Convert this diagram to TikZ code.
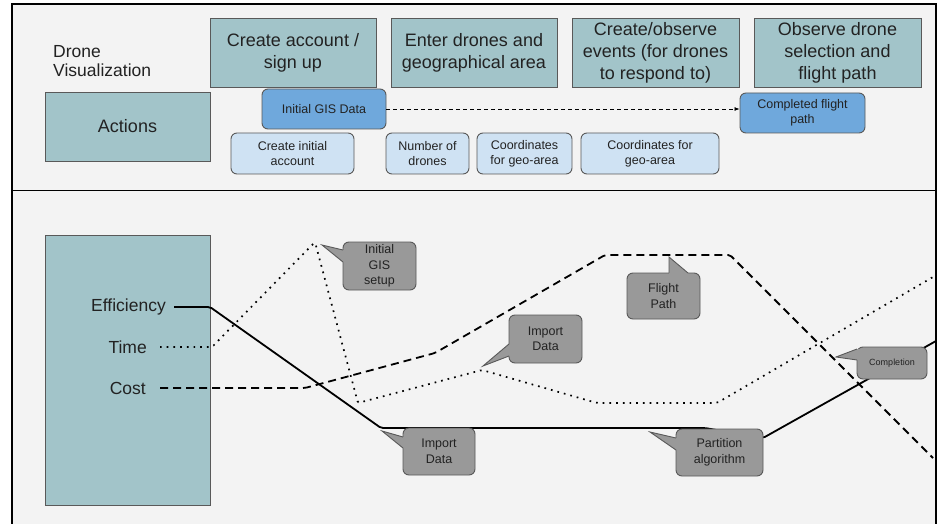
\documentclass[tikz,border=0pt]{standalone}
\usepackage{fontspec}
\setmainfont{Liberation Sans}
\usetikzlibrary{arrows.meta}
\definecolor{bgc}{HTML}{F3F3F3}
\definecolor{tealc}{HTML}{A2C4C9}
\definecolor{bluec}{HTML}{6FA8DC}
\definecolor{lbluec}{HTML}{CFE2F3}
\definecolor{grayc}{HTML}{999999}
\definecolor{edgec}{HTML}{595959}
\definecolor{txtc}{HTML}{222222}
\tikzset{
  hdr/.style={draw=edgec, line width=0.9pt, fill=tealc, inner sep=0pt, align=center, text=txtc,
     font=\fontsize{18}{22}\selectfont},
  dkblue/.style={draw=edgec, line width=0.9pt, fill=bluec, rounded corners=6pt, inner sep=0pt, align=center, text=txtc,
     font=\fontsize{12.5}{15}\selectfont},
  ltblue/.style={draw=edgec, line width=0.9pt, fill=lbluec, rounded corners=6pt, inner sep=0pt, align=center, text=txtc,
     font=\fontsize{12.5}{15}\selectfont},
  callbox/.style={draw=edgec, line width=0.9pt, fill=grayc, rounded corners=6pt, inner sep=0pt, align=center, text=txtc,
     font=\fontsize{12.5}{15.5}\selectfont},
  callfill/.style={fill=grayc},
  callline/.style={draw=edgec, line width=0.9pt, line join=miter},
  lbl/.style={inner sep=0pt, text=txtc, font=\fontsize{17.5}{19}\selectfont},
  solidline/.style={line width=1.8pt, black, rounded corners=2pt},
  dotline/.style={line width=1.7pt, black, dash pattern=on 1.7pt off 5pt, rounded corners=2pt},
  dashline/.style={line width=1.8pt, black, dash pattern=on 8pt off 5pt, rounded corners=2pt},
}
\begin{document}
\begin{tikzpicture}[x=1pt, y=-1pt]
\useasboundingbox (0,0) rectangle (940,524);
\fill[white] (0,0) rectangle (940,524);
\fill[bgc] (12,4) rectangle (936,526);
\draw[line width=1.3pt, black] (12,526) -- (12,4) -- (936,4) -- (936,526);
\draw[line width=1.3pt, black] (12,190.5) -- (936,190.5);

% ---- top section
\node[lbl, align=left, anchor=west] (title) at (53,61) {Drone\\Visualization};
\node[hdr, minimum width=166pt, minimum height=69pt] (h1) at (293,52.5) {Create account /\\sign up};
\node[hdr, minimum width=166pt, minimum height=69pt] (h2) at (474,52.5) {Enter drones and\\geographical area};
\node[hdr, minimum width=167pt, minimum height=69pt] (h3) at (655.5,52.5) {Create/observe\\events (for drones\\to respond to)};
\node[hdr, minimum width=167pt, minimum height=69pt] (h4) at (837.5,52.5) {Observe drone\\selection and\\flight path};
\node[hdr, minimum width=165pt, minimum height=69pt] (actions) at (127.5,126.5) {Actions};

\node[dkblue, minimum width=124pt, minimum height=40pt] (gis) at (324,109) {Initial GIS Data};
\node[dkblue, minimum width=125pt, minimum height=40pt] (done) at (802.5,113) {Completed flight\\path};
\draw[line width=0.8pt, dash pattern=on 4pt off 3pt, -{Latex[length=5pt,width=4pt]}] (gis.east) -- (gis.east -| done.west);

\node[ltblue, minimum width=123pt, minimum height=41pt] (acct) at (292.5,153.5) {Create initial\\account};
\node[ltblue, minimum width=83pt, minimum height=41pt] (ndr) at (427.5,153.5) {Number of\\drones};
\node[ltblue, minimum width=95pt, minimum height=41pt] (co1) at (524.5,153.5) {Coordinates\\for geo-area};
\node[ltblue, minimum width=138pt, minimum height=41pt] (co2) at (650,153.5) {Coordinates for\\geo-area};

% ---- bottom section
\node[hdr, minimum width=165pt, minimum height=270pt] (metrics) at (127.5,370) {};
\node[lbl, anchor=east] (eff) at (166,307) {Efficiency};
\node[lbl, anchor=east] (time) at (147,347) {Time};
\node[lbl, anchor=east] (cost) at (146,388) {Cost};

% lines
\coordinate (e0) at (174,307);
\coordinate (e1) at (210,307);
\coordinate (e2) at (381,428);
\coordinate (e3) at (705,428);
\coordinate (e4) at (763,438);
\coordinate (e5) at (936,341);
\draw[solidline] (e0) -- (e1) -- (e2) -- (e3) -- (e4) -- (e5);

\coordinate (t0) at (160,347);
\coordinate (t1) at (212,347);
\coordinate (t2) at (315,242);
\coordinate (t3) at (358,403);
\coordinate (t4) at (482,370);
\coordinate (t5) at (597,403);
\coordinate (t6) at (717,403);
\coordinate (t7) at (933,277);
\draw[dotline] (t0) -- (t1) -- (t2) -- (t3) -- (t4) -- (t5) -- (t6) -- (t7);

\coordinate (c0) at (160,388);
\coordinate (c1) at (305,388);
\coordinate (c2) at (435,353);
\coordinate (c3) at (605,255);
\coordinate (c4) at (730,255);
\coordinate (c5) at (933,458);
\draw[dashline] (c0) -- (c1) -- (c2) -- (c3) -- (c4) -- (c5);

% ---- callouts
\node[callbox, minimum width=73pt, minimum height=48pt] (gset) at (379.5,266) {Initial\\GIS\\setup};
\fill[callfill] (322,245) -- (343,250) -- (346,250) -- (346,262) -- (343,262) -- cycle;
\draw[callline] (343,250) -- (322,245) -- (343,262);

\node[callbox, minimum width=73pt, minimum height=48pt] (imp1) at (545.5,339) {Import\\Data};
\fill[callfill] (483,366) -- (509,344) -- (512,344) -- (512,356) -- (509,356) -- cycle;
\draw[callline] (509,344) -- (483,366) -- (509,356);

\node[callbox, minimum width=72pt, minimum height=47pt] (imp2) at (439,451.5) {Import\\Data};
\fill[callfill] (382,431) -- (403,437) -- (406,437) -- (406,448) -- (403,448) -- cycle;
\draw[callline] (403,437) -- (382,431) -- (403,448);

\node[callbox, minimum width=87pt, minimum height=47pt] (part) at (719.5,452.5) {Partition\\algorithm};
\fill[callfill] (650,432) -- (676,438) -- (679,438) -- (679,450) -- (676,450) -- cycle;
\draw[callline] (676,438) -- (650,432) -- (676,450);

\node[callbox, minimum width=73pt, minimum height=46pt] (flight) at (663.5,296) {Flight\\Path};
\fill[callfill] (669,257) -- (669,276) -- (688,276) -- (688,273) -- cycle;
\draw[callline] (669,273) -- (669,257) -- (688,273);

\node[callbox, minimum width=70pt, minimum height=32pt, font=\fontsize{9}{11}\selectfont] (compl) at (892,363) {Completion};
\fill[callfill] (836,357) -- (857,349) -- (860,349) -- (860,360) -- (857,360) -- cycle;
\draw[callline] (857,349) -- (836,357) -- (857,360);
\end{tikzpicture}
\end{document}
